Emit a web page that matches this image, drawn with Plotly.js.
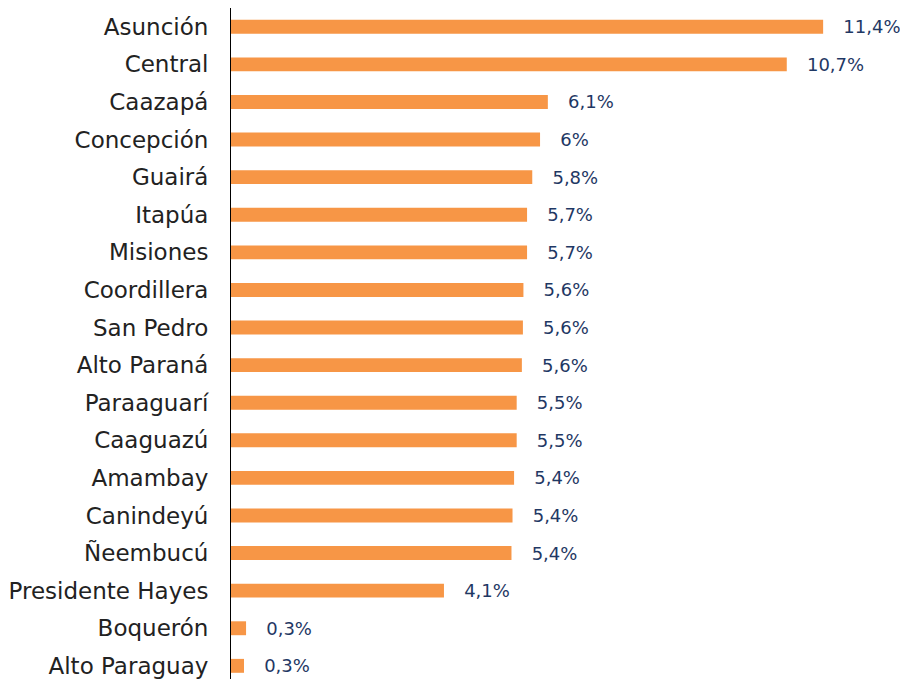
<!DOCTYPE html>
<html><head><meta charset="utf-8">
<script src="https://cdn.plot.ly/plotly-3.0.1.min.js"></script>
<style>html,body{margin:0;padding:0;background:#fff;}#chart{width:900px;height:679px;}</style>
</head><body><div id="chart"></div>
<script>
const departments = ["Asunción","Central","Caazapá","Concepción","Guairá","Itapúa","Misiones","Coordillera","San Pedro","Alto Paraná","Paraaguarí","Caaguazú","Amambay","Canindeyú","Ñeembucú","Presidente Hayes","Boquerón","Alto Paraguay"];
const values = [11.4,10.7,6.1,5.95,5.8,5.7,5.7,5.63,5.62,5.6,5.5,5.5,5.45,5.42,5.4,4.1,0.29,0.25];
const labels = ["11,4%","10,7%","6,1%","6%","5,8%","5,7%","5,7%","5,6%","5,6%","5,6%","5,5%","5,5%","5,4%","5,4%","5,4%","4,1%","0,3%","0,3%"];

const trace = {
  type: "bar", orientation: "h",
  y: departments, x: values,
  text: labels, textposition: "outside", cliponaxis: false,
  texttemplate: "\u00a0\u00a0\u00a0%{text}",
  constraintext: "none",
  textfont: {family: "DejaVu Sans, sans-serif", size: 18, color: "#1F3864"},
  marker: {color: "#F79646"},
  hoverinfo: "none"
};
const layout = {
  width: 900, height: 679,
  margin: {l: 231, r: 0, t: 8, b: 0},
  paper_bgcolor: "#fff", plot_bgcolor: "#fff",
  bargap: 0.63,
  showlegend: false,
  xaxis: {range: [0, 12.88], visible: false, showgrid: false, zeroline: false},
  yaxis: {
    type: "category", range: [17.35, -0.5],
    showline: true, linecolor: "#000", linewidth: 1,
    showgrid: false, zeroline: false, ticks: "",
    ticklabelstandoff: 17,
    tickfont: {family: "DejaVu Sans, sans-serif", size: 23, color: "#222"}
  }
};
Plotly.newPlot("chart", [trace], layout, {displayModeBar: false, staticPlot: true});
</script></body></html>
